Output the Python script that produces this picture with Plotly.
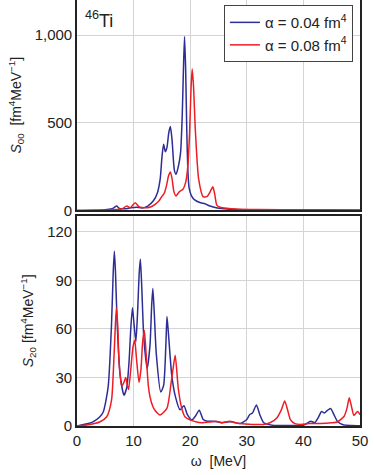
import plotly.graph_objects as go

# S00 response, alpha = 0.04 fm^4
omega_s00_a04 = [0, 3, 5, 6, 6.5, 7.0, 7.5, 8.5, 9.5, 10.5, 11.5, 12.5, 13.5, 14.2, 14.7,
                 15.0, 15.3, 15.6, 15.9, 16.2, 16.5, 16.8, 17.2, 17.5, 17.9, 18.3, 18.6,
                 18.8, 19.0, 19.2, 19.4, 19.6, 19.8, 20.2, 20.8, 21.7, 22.6, 23.5, 24.6,
                 26, 28, 32, 40, 50]
s00_a04 = [0, 1, 4, 8, 15, 25, 12, 10, 15, 18, 14, 25, 55, 100, 180,
           300, 377, 335, 360, 440, 478, 400, 230, 206, 250, 330, 550,
           800, 992, 800, 450, 220, 130, 85, 60, 45, 38, 25, 15,
           10, 6, 4, 2, 1]

# S00 response, alpha = 0.08 fm^4
omega_s00_a08 = [0, 4, 6, 7, 8, 8.8, 9.4, 10.3, 11, 12, 13, 13.8, 14.5, 15.0, 15.4, 15.8,
                 16.2, 16.5, 16.8, 17.1, 17.5, 17.9, 18.2, 18.7, 19.2, 19.6, 19.9, 20.15,
                 20.35, 20.6, 20.9, 21.5, 22.3, 23.0, 23.5, 24.0, 24.35, 24.7, 25.3, 26.5,
                 28, 32, 40, 50]
s00_a08 = [0, 1, 2, 5, 10, 25, 15, 44, 20, 15, 20, 35, 55, 80, 97, 140,
           200, 219, 180, 110, 82, 100, 110, 120, 160, 260, 450, 700,
           806, 700, 463, 177, 78, 80, 105, 135, 90, 30, 18, 12,
           8, 5, 4, 3]

# S20 response, alpha = 0.04 fm^4
omega_s20_a04 = [0, 2, 2.9, 4.0, 4.65, 5.5, 6.1, 6.4, 6.6, 6.8, 7.1, 7.6, 8.3, 8.8, 9.2,
                 9.5, 9.8, 10.1, 10.4, 10.7, 11.0, 11.2, 11.45, 11.8, 12.4, 12.9, 13.2,
                 13.4, 13.65, 14.0, 14.8, 15.3, 15.7, 15.9, 16.2, 16.75, 17.4, 18.2, 18.9,
                 19.5, 20.3, 20.9, 21.6, 22.3, 23.0, 24.0, 25.0, 25.7, 26.5, 27.5, 28.8,
                 30.0, 30.5, 31.0, 31.7, 32.3, 33.0, 34.5, 37, 40, 41.3, 42.0, 42.6, 43.2,
                 43.7, 44.2, 44.8, 45.4, 46.0, 47.0, 48.5, 50]
s20_a04 = [0, 1.5, 2.7, 5.5, 8.8, 24, 63, 95, 108, 95, 63, 32, 19, 24, 40,
           60, 73, 62, 52, 70, 95, 103, 85, 55, 35.5, 50, 75,
           85, 70, 45, 21, 25, 50, 67.7, 55, 31, 18, 10, 12.5,
           7, 3.7, 6, 9.8, 4, 3, 3, 2.5, 2, 2.5, 2.5, 1.5,
           4, 7, 8, 13, 7, 2, 0.5, 0.3, 0.5, 3, 2, 5, 9,
           8, 9.5, 10.8, 7, 3, 0.8, 0.3, 0.2]

# S20 response, alpha = 0.08 fm^4
omega_s20_a08 = [0, 2, 4, 5.25, 6.1, 6.5, 6.75, 6.96, 7.2, 7.43, 7.9, 8.3, 8.6, 8.9, 9.1,
                 9.5, 9.9, 10.2, 10.5, 10.96, 11.3, 11.6, 11.9, 12.2, 12.6, 12.9, 13.4,
                 13.8, 14.7, 15.9, 16.6, 17.0, 17.35, 17.9, 18.5, 19.1, 20.6, 22, 23.5,
                 24.6, 25.5, 27.0, 28.0, 28.8, 31, 32.9, 34.1, 35.3, 36.1, 36.7, 37.2,
                 37.7, 38.5, 39.5, 41, 43, 45, 46, 47.2, 47.7, 48.1, 48.5, 48.9, 49.3,
                 49.6, 50]
s20_a08 = [0, 0.8, 2.5, 5.7, 16, 40, 60, 73, 62, 40, 24.6, 27, 30, 25, 22.5,
           35, 49, 53, 42, 27, 35, 52, 59, 45, 25, 18, 12,
           9.6, 6.8, 11, 26, 36, 43.7, 23, 11, 5.6, 3, 2, 2.5,
           3, 2, 3, 2, 1.5, 1, 1, 2, 5, 10, 15.4, 10,
           4, 1.5, 1, 1.5, 1.5, 2, 2.5, 6, 11, 17.4, 12, 6.6, 8,
           9, 7]

series_names = ["α = 0.04 fm<sup>4</sup>", "α = 0.08 fm<sup>4</sup>"]
BLUE = "#2d2d96"
RED = "#ee1c25"

fig = go.Figure()

for x, y, name, col in [
    (omega_s00_a04, s00_a04, series_names[0], BLUE),
    (omega_s00_a08, s00_a08, series_names[1], RED),
]:
    fig.add_trace(go.Scatter(x=x, y=y, name=name, mode="lines",
                             line=dict(color=col, width=1.5, shape="spline", smoothing=0.6),
                             xaxis="x", yaxis="y"))

for x, y, name, col in [
    (omega_s20_a04, s20_a04, series_names[0], BLUE),
    (omega_s20_a08, s20_a08, series_names[1], RED),
]:
    fig.add_trace(go.Scatter(x=x, y=y, name=name, mode="lines", showlegend=False,
                             line=dict(color=col, width=1.5, shape="spline", smoothing=0.6),
                             xaxis="x2", yaxis="y2"))

axis_common = dict(showline=True, mirror=True, linecolor="#222", linewidth=1.6,
                   gridcolor="#d4d4d4", gridwidth=1, zeroline=False, ticks="",
                   automargin=False,
                   tickfont=dict(size=15, color="#222", family="Liberation Sans"))

fig.update_layout(
    width=374, height=475,
    margin=dict(l=77, r=14, t=0, b=49),
    plot_bgcolor="white", paper_bgcolor="white",
    font=dict(family="Liberation Sans", color="#222"),
    xaxis=dict(domain=[0, 1], anchor="y", range=[0, 50], dtick=10,
               showticklabels=False, **axis_common),
    yaxis=dict(domain=[0.506, 1], anchor="x", range=[0, 1200],
               tickvals=[0, 500, 1000], tickformat=",",
               title=dict(text="<i>S</i><sub>00</sub>  [fm<sup>4</sup>MeV<sup>−1</sup>]",
                          font=dict(size=14), standoff=10),
               **axis_common),
    xaxis2=dict(domain=[0, 1], anchor="y2", range=[0, 50], dtick=10,
                title=dict(text="ω  [MeV]", font=dict(size=14), standoff=8),
                **axis_common),
    yaxis2=dict(domain=[0, 0.494], anchor="x2", range=[0, 130],
                tickvals=[0, 30, 60, 90, 120],
                title=dict(text="<i>S</i><sub>20</sub> [fm<sup>4</sup>MeV<sup>−1</sup>]",
                           font=dict(size=14), standoff=10),
                **axis_common),
    legend=dict(x=0.975, y=0.988, xanchor="right", yanchor="top",
                bgcolor="white", bordercolor="#444", borderwidth=1,
                font=dict(size=15), itemwidth=30, tracegroupgap=0),
    annotations=[dict(text="<sup>46</sup>Ti", xref="paper", yref="paper",
                      x=0.02, y=0.985, xanchor="left", yanchor="top",
                      showarrow=False, font=dict(size=18, color="#222"))],
)

fig.write_html("out.html", config={"displayModeBar": False},
               post_script="document.body.style.margin='0';")
